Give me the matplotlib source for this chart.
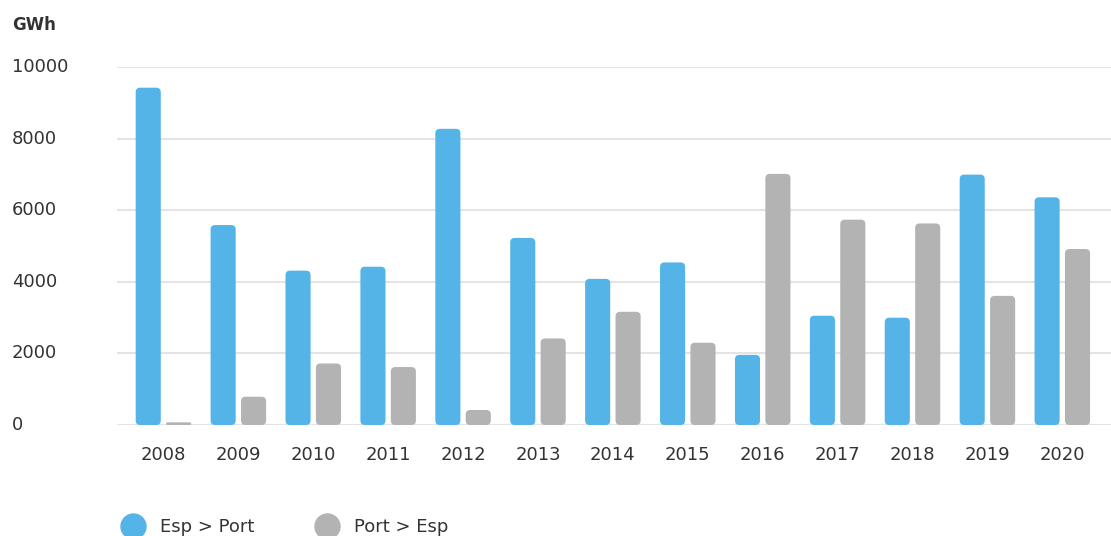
import numpy as np
import matplotlib
matplotlib.use("Agg")
import matplotlib.pyplot as plt
from matplotlib.patches import FancyBboxPatch
from matplotlib.lines import Line2D
from matplotlib.transforms import blended_transform_factory

years = ["2008", "2009", "2010", "2011", "2012", "2013", "2014",
         "2015", "2016", "2017", "2018", "2019", "2020"]
esp_port = [9430, 5590, 4315, 4425, 8280, 5230, 4085, 4545, 1960, 3055, 3000, 7000, 6365]
port_esp = [75, 790, 1720, 1620, 420, 2420, 3165, 2300, 7020, 5740, 5635, 3610, 4920]
yticks = [0, 2000, 4000, 6000, 8000, 10000]

blue = "#55b4e7"
grey = "#b3b3b3"
text_col = "#333333"

plt.rcParams["font.family"] = ["DejaVu Sans"]

fig = plt.figure(figsize=(11.11, 5.36), dpi=100)
ax = fig.add_axes([117 / 1111, 111 / 536, 994 / 1111, 357.7 / 536])

x = np.arange(len(years))
w = 0.335
off = 0.203
b1 = ax.bar(x - off, esp_port, w, color=blue, zorder=3)
b2 = ax.bar(x + off, port_esp, w, color=grey, zorder=3)

ax.set_xlim(-0.62, 12.65)
ax.set_ylim(0, 10000)

# swap plain rectangles for rounded ones
p0 = ax.transData.transform((0, 0))
p1 = ax.transData.transform((1, 1))
sx, sy = p1[0] - p0[0], p1[1] - p0[1]
for bars in (b1, b2):
    for r in bars:
        bx, by, bw, bh = r.get_x(), r.get_y(), r.get_width(), r.get_height()
        r_px = min(4.5, bh * sy / 2, bw * sx / 2)
        patch = FancyBboxPatch((bx, by), bw, bh,
                               boxstyle=f"round,pad=0,rounding_size={r_px / sx}",
                               mutation_aspect=sx / sy,
                               facecolor=r.get_facecolor(), edgecolor="none", zorder=3)
        r.remove()
        ax.add_patch(patch)

for s in ax.spines.values():
    s.set_visible(False)
ax.set_yticks(yticks)
ax.yaxis.grid(True, color="#e4e4e4", linewidth=1.5, zorder=0)
ax.tick_params(axis="y", length=0, labelleft=False)
ax.set_xticks(x, years)
ax.tick_params(axis="x", length=0, pad=15, labelsize=13, labelcolor=text_col)

# y labels sit flush left against the figure edge
ytrans = blended_transform_factory(fig.transFigure, ax.transData)
for t in yticks:
    ax.text(12 / 1111, t, str(t), transform=ytrans,
            ha="left", va="center", fontsize=13, color=text_col)

fig.text(12 / 1111, 1 - 25 / 536, "GWh", ha="left", va="center", fontsize=12,
         fontweight="bold", color=text_col)

handles = [Line2D([], [], marker="o", linestyle="none", markersize=18, color=blue),
           Line2D([], [], marker="o", linestyle="none", markersize=18, color=grey)]
fig.legend(handles, ["Esp > Port", "Port > Esp"], loc="center left",
           bbox_to_anchor=(106 / 1111, 9 / 536), ncol=2, frameon=False,
           fontsize=13, handletextpad=0.5, columnspacing=3.0, borderpad=0,
           labelcolor=text_col)

fig.savefig("out.png", dpi=100)
